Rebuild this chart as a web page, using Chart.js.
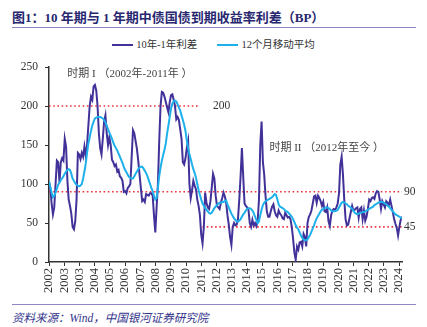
<!DOCTYPE html>
<html lang="zh">
<head>
<meta charset="UTF-8">
<title>10年期与1年期中债国债到期收益率利差</title>
<script src="https://cdn.jsdelivr.net/npm/chart.js"></script>
<style>
  body { margin: 0; width: 427px; height: 327px; background: #fff; position: relative; overflow: hidden;
         font-family: "Liberation Serif", "Noto Sans CJK SC", serif; }
  #title { position: absolute; left: 12px; top: 7px; font-size: 13px; font-weight: bold; color: #27276f; white-space: nowrap; }
  .rule { position: absolute; left: 12px; width: 404px; height: 1px; background: #8f88c4; }
  #legend { position: absolute; top: 36px; left: 0; width: 427px; text-align: center; font-size: 10.5px; color: #333; white-space: nowrap; }
  #legend span.item { margin: 0 10px; }
  #legend i { display: inline-block; width: 21px; height: 2px; vertical-align: middle; margin-right: 3px; position: relative; top: -1px; }
  #box { position: absolute; left: 0; top: 40px; width: 427px; height: 262px; }
  #source { position: absolute; left: 12px; top: 309px; font-size: 11.5px; font-style: italic; color: #34348a; white-space: nowrap; }
</style>
</head>
<body>
<div id="title">图1：10 年期与 1 年期中债国债到期收益率利差（BP）</div>
<div class="rule" style="top:27px"></div>
<div id="legend"></div>
<div id="box"><canvas id="chart"></canvas></div>
<div class="rule" style="top:304px"></div>
<div id="source">资料来源：Wind，中国银河证券研究院</div>

<script>
// 月度数据 2002-01 起，单位 BP
const seriesNames = ['10年-1年利差', '12个月移动平均'];

const yearLabels = ['2002', '2003', '2003', '2004', '2005', '2006', '2007', '2008', '2009', '2010', '2011', '2012',
                    '2013', '2014', '2015', '2016', '2017', '2018', '2019', '2020', '2021', '2022', '2023', '2024'];

const spread = [
  103, 95, 75, 61, 70, 100, 130, 128, 102, 128, 133, 130, 158, 148, 105, 80, 72, 62, 45, 42,
  52, 80, 140, 138, 132, 140, 135, 148, 136, 150, 175, 200, 212, 208, 225, 227, 220, 200, 165, 146,
  138, 158, 180, 188, 165, 150, 160, 150, 131, 128, 123, 125, 116, 118, 110, 108, 104, 90, 91, 88,
  95, 97, 100, 135, 169, 165, 155, 145, 130, 112, 95, 78, 80, 77, 87, 86, 85, 88, 88, 85,
  60, 38, 70, 100, 155, 200, 218, 217, 212, 205, 198, 192, 205, 214, 215, 208, 200, 183, 186, 182,
  170, 158, 128, 125, 133, 146, 155, 100, 82, 92, 104, 98, 93, 80, 72, 60, 35, 24, 45, 89,
  76, 70, 68, 78, 95, 113, 107, 85, 72, 70, 68, 76, 82, 89, 84, 76, 60, 48, 32, 22,
  45, 50, 47, 48, 55, 80, 110, 146, 110, 75, 72, 70, 67, 50, 45, 54, 47, 50, 46, 52,
  80, 150, 180, 128, 112, 85, 65, 58, 58, 65, 71, 74, 65, 60, 58, 66, 62, 60, 56, 55,
  63, 60, 57, 58, 55, 45, 30, 12, 3, 20, 16, 25, 26, 20, 36, 32, 20, 50, 58, 61,
  66, 75, 84, 85, 76, 85, 82, 78, 72, 77, 65, 64, 70, 52, 46, 60, 66, 68, 67, 70,
  75, 88, 125, 135, 112, 80, 55, 47, 48, 56, 64, 72, 66, 67, 69, 70, 57, 68, 70, 55,
  66, 53, 58, 68, 80, 78, 82, 83, 81, 88, 91, 90, 80, 68, 78, 74, 70, 78, 76, 73,
  80, 72, 64, 55, 49, 44, 34, 45, 54, 58
];

const movingAvg = [
  103, 96, 89, 83, 85, 89, 94, 99, 102, 105, 107, 110, 113, 116, 118, 119, 118, 113, 107, 104,
  101, 99, 98, 97, 98, 100, 107, 116, 126, 140, 152, 160, 168, 175, 180, 184, 185, 186, 186, 186,
  185, 184, 182, 179, 175, 170, 166, 162, 158, 153, 149, 146, 143, 139, 135, 131, 127, 122, 118, 115,
  112, 109, 108, 107, 107, 110, 113, 116, 119, 121, 122, 122, 120, 117, 114, 110, 105, 100, 95, 91,
  85, 80, 82, 95, 110, 121, 130, 137, 144, 152, 165, 175, 186, 197, 203, 206, 207, 206, 202, 198,
  194, 188, 182, 176, 168, 156, 146, 138, 132, 125, 119, 114, 108, 100, 92, 86, 80, 75, 72, 69,
  67, 65, 63, 62, 63, 66, 69, 71, 73, 75, 76, 76, 77, 77, 78, 79, 74, 70, 66, 62,
  59, 56, 54, 52, 52, 53, 55, 58, 61, 63, 66, 68, 69, 69, 68, 66, 63, 58, 54, 50,
  52, 60, 67, 73, 76, 78, 79, 80, 81, 82, 83, 85, 87, 86, 80, 74, 71, 70, 69, 68,
  66, 65, 64, 62, 60, 58, 55, 51, 47, 44, 42, 38, 34, 31, 29, 28, 28, 29, 32, 35,
  39, 43, 47, 52, 56, 59, 62, 65, 67, 68, 69, 70, 70, 69, 68, 66, 65, 65, 65, 66,
  67, 70, 73, 76, 77, 76, 75, 74, 72, 71, 70, 68, 66, 63, 62, 61, 62, 63, 63, 64,
  64, 65, 66, 67, 68, 69, 70, 71, 73, 74, 75, 76, 77, 77, 77, 76, 75, 74, 72, 71,
  69, 67, 65, 63, 61, 60, 59, 58, 57, 56
];

// 参考线：水平值及起止月份序号
const refLevels = [200, 90, 45];
const refFrom = [0, 0, 117];
const refTo = [115, 269, 269];

const periodNotes = ['时期 I （2002年-2011年 ）', '时期 II （2012年至今 ）'];
const periodMonth = [14, 168];
const periodLevel = [241, 146];

const colors = ['#41329a', '#1eb0ea'];
const tickStep = 11.6; // 横轴标签间隔（月）

const xy = arr => arr.map((v, i) => ({ x: i, y: v }));

const refSets = refLevels.map((lv, k) => ({
  label: 'ref' + lv,
  data: [{ x: refFrom[k], y: lv }, { x: refTo[k], y: lv }],
  borderColor: '#f0323c',
  borderWidth: 1.6,
  borderDash: [1.6, 2.6],
  pointRadius: 0,
  order: 2
}));

const notes = {
  id: 'notes',
  afterDatasetsDraw(chart) {
    const { ctx, scales: { x, y } } = chart;
    ctx.save();
    ctx.fillStyle = '#333';
    ctx.textBaseline = 'middle';
    ctx.font = '11.5px "Liberation Serif"';
    const gaps = [13, 2, 2];
    refLevels.forEach((lv, k) => {
      ctx.fillText(String(lv), x.getPixelForValue(refTo[k]) + gaps[k], y.getPixelForValue(lv));
    });
    ctx.fillStyle = '#444';
    ctx.font = '11px "Liberation Serif", "Noto Sans CJK SC"';
    periodNotes.forEach((t, k) => {
      ctx.fillText(t, x.getPixelForValue(periodMonth[k]), y.getPixelForValue(periodLevel[k]));
    });
    ctx.restore();
  }
};

const chart = new Chart(document.getElementById('chart'), {
  type: 'line',
  data: {
    datasets: [
      { label: seriesNames[0], data: xy(spread), borderColor: colors[0], borderWidth: 2, pointRadius: 0, order: 1 },
      { label: seriesNames[1], data: xy(movingAvg), borderColor: colors[1], borderWidth: 2, pointRadius: 0, order: 0 }
    ].concat(refSets)
  },
  options: {
    responsive: true,
    maintainAspectRatio: false,
    animation: false,
    events: [],
    layout: { padding: { top: 27, right: 25, left: 0, bottom: 0 } },
    plugins: { legend: { display: false }, tooltip: { enabled: false } },
    scales: {
      x: {
        type: 'linear',
        min: 0,
        max: spread.length - 1,
        afterBuildTicks: s => { s.ticks = yearLabels.map((_, k) => ({ value: k * tickStep })); },
        afterFit: s => { s.height = 40; },
        ticks: {
          autoSkip: false,
          minRotation: 90,
          maxRotation: 90,
          padding: 2,
          color: '#333',
          font: { family: 'Liberation Serif', size: 12.5 },
          callback: (v, i) => yearLabels[i]
        },
        grid: { drawOnChartArea: false, drawTicks: true, tickLength: 4, color: '#333' },
        border: { color: '#333', width: 1.5 }
      },
      y: {
        min: 0,
        max: 250,
        afterFit: s => { s.width = 49; },
        ticks: { stepSize: 50, padding: 7, color: '#333', font: { family: 'Liberation Serif', size: 11.5 } },
        grid: { drawOnChartArea: false, drawTicks: true, tickLength: 4, color: '#333' },
        border: { color: '#333', width: 1.5 }
      }
    }
  },
  plugins: [notes]
});

// 图例
const legend = document.getElementById('legend');
seriesNames.forEach((name, k) => {
  const item = document.createElement('span');
  item.className = 'item';
  item.innerHTML = '<i style="background:' + colors[k] + '"></i>' + name;
  legend.appendChild(item);
});
</script>
</body>
</html>
